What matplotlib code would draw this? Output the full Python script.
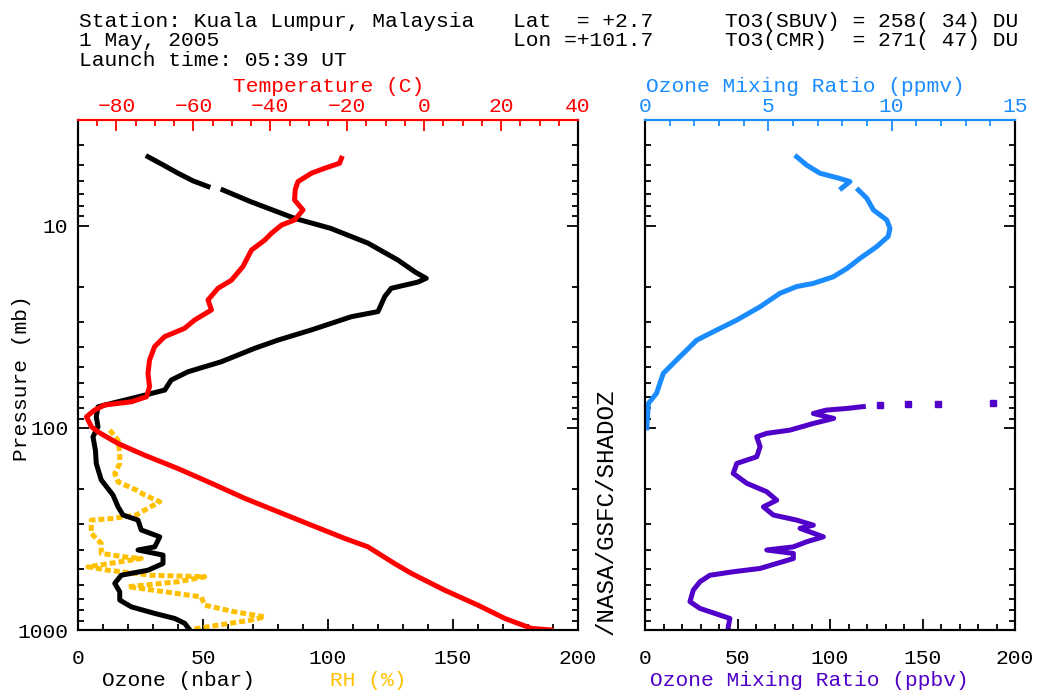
import numpy as np
import matplotlib
matplotlib.use("Agg")
import matplotlib.pyplot as plt
from matplotlib.ticker import MultipleLocator, LogLocator, FuncFormatter, NullFormatter

plt.rcParams['font.family'] = ['Liberation Mono', 'DejaVu Sans Mono']
FS = 15.3

# ---------------- data ----------------
nan = np.nan
# Ozone partial pressure (nbar) vs pressure (mb)
o3_p = [4.56, 5.0, 5.5, 6.0, 6.4, 6.5, 6.66, 7.6, 9.2, 10.3, 12.2, 14.8, 17.0, 18.2, 19.0, 20.4,
        22.4, 26.6, 28.2, 32.8, 36.8, 40.4, 47.1, 52.8, 58, 65, 68.9, 75.7, 78.7, 88, 98.8,
        110.7, 130, 150, 181, 215, 245.7, 270, 286, 320, 346, 388, 402, 426, 469, 506, 536,
        588, 647, 711, 768, 828, 877, 927, 1000]
o3_nbar = [28, 34, 40, 46, 52, nan, 58, 69, 86.7, 101, 116, 128, 135, 139.3, 136, 125.3,
           122.7, 120, 109.3, 93.3, 80, 70.7, 57.3, 44, 37.3, 34.7, 26.7, 13.3, 8, 7.3, 8,
           6, 7, 7.3, 9.3, 14, 16, 18, 24, 25.3, 32.7, 30.7, 24, 34, 34, 28, 17.3,
           14.7, 16.7, 16.7, 21.3, 30.7, 38.7, 42.7, 44.7]

# Temperature (C)
t_p = [4.64, 4.91, 5.2, 5.5, 6.05, 6.6, 7.46, 8.36, 9.37, 9.93, 10.9, 11.8, 13.2, 15.9, 18.6,
       20.4, 23.3, 26.1, 29.3, 32.2, 35.4, 39.7, 46.2, 53.8, 62.7, 70.2, 74.3, 77.1, 81.7,
       88.2, 98.8, 104.7, 119.5, 136.5, 159, 188, 223, 260, 303, 352, 388, 469, 525, 635,
       754, 877, 982, 1000]
t_c = [-21.5, -22, -25.9, -29.3, -32.8, -33.5, -33.7, -31.5, -33.7, -37.1, -39.7, -41.5, -44.9,
       -47.1, -50.1, -53.6, -56.2, -55.3, -59.7, -62.3, -67.5, -70.1, -71.4, -71.8, -71.4,
       -72.2, -76.1, -83.1, -85.7, -87.8, -86.5, -84.8, -79.6, -72.7, -64, -55.3, -46.7, -38,
       -29.3, -20.7, -14.6, -7.7, -3.3, 5.3, 14, 21, 27.9, 33]

# Relative humidity (%)
rh_p = [102.6, 115, 134, 150, 168, 185, 203, 215, 232, 255, 270, 281, 286, 333, 373, 418, 435,
        443, 487, 506, 536, 545, 577, 611, 647, 686, 754, 813, 861, 893, 946, 1000]
rh_pct = [12.7, 16, 16.7, 16.7, 14.7, 16, 23.3, 26.7, 32.7, 26.7, 23.3, 13.3, 5.3, 5.3, 9.3,
          9.3, 18.7, 25.3, 4, 12, 29.3, 50.7, 40, 20, 34.7, 49.3, 50.7, 62.7, 74.7, 69.3, 56, 44]

# Ozone mixing ratio (ppmv)
mr_p = [4.56, 5.01, 5.5, 5.84, 6.05, 6.53, 6.6, 6.66, 7.31, 8.36, 9.37, 10.3, 11.3, 12.7, 14.5,
        16.3, 17.9, 19.3, 20.0, 21.6, 25.2, 29.3, 32.8, 36.8, 46.2, 53.8, 67.4, 75.7, 100]
mr_ppmv = [6.15, 6.55, 7.09, 7.9, 8.31, 7.97, nan, 8.65, 8.99, 9.26, 9.8, 9.93, 9.86, 9.39, 8.72,
           8.18, 7.63, 6.82, 6.15, 5.47, 4.66, 3.72, 2.91, 2.1, 1.28, 0.74, 0.47, 0.14, 0.07]

# Ozone mixing ratio (ppbv)
pb_p = [78.5, 80.2, 81.7, 84.9, 89.8, 95.1, 102.6, 106.5, 110.7, 124, 139, 150, 168, 188, 207,
        228, 246, 270, 286, 303, 314, 346, 366, 388, 402, 418, 443, 496, 515, 536, 577, 635,
        724, 782, 844, 877, 964, 1000]
pb_ppbv = [118, 109, 98, 91, 102, 91, 78.4, 65.8, 60.4, 62.2, 60.4, 49.6, 47.7, 55, 65.8,
           71.2, 64, 69.4, 82, 91, 83.8, 96.4, 87.4, 80.2, 65.8, 80.2, 80.2, 62.2, 47.7, 35.1,
           29.7, 26.1, 24.3, 29.7, 40.5, 45.9, 45, 45]
pb_dot_p = [77.5, 76.5, 76.0, 75.7]
pb_dot_ppbv = [127, 142, 158.6, 188]

header_left = ["Station: Kuala Lumpur, Malaysia", "1 May, 2005", "Launch time: 05:39 UT"]
header_mid = ["Lat  = +2.7", "Lon =+101.7"]
header_right = ["TO3(SBUV) = 258( 34) DU", "TO3(CMR)  = 271( 47) DU"]

RED = '#ff0000'
GOLD = '#ffc000'
BLUE = '#1a8cff'
PURPLE = '#5000c8'

W, H = 1040, 695
fig = plt.figure(figsize=(W / 100, H / 100), dpi=100)

def fx(px):
    return px / W

def fy(py):
    return 1 - py / H

AX_TOP, AX_BOT = 120, 630
ax1 = fig.add_axes([fx(78), fy(AX_BOT), fx(578) - fx(78), (AX_BOT - AX_TOP) / H])
ax2 = fig.add_axes([fx(645), fy(AX_BOT), fx(1015) - fx(645), (AX_BOT - AX_TOP) / H])
ax1t = ax1.twiny()
ax2t = ax2.twiny()

LW = 3.6

def style_y(ax, labels):
    ax.set_yscale('log')
    ax.set_ylim(1000, 3)
    ax.yaxis.set_major_locator(LogLocator(base=10))
    ax.yaxis.set_minor_locator(LogLocator(base=10, subs=np.arange(2, 10)))
    if labels:
        ax.yaxis.set_major_formatter(FuncFormatter(lambda v, p: f"{v:g}"))
    else:
        ax.yaxis.set_major_formatter(NullFormatter())
    ax.yaxis.set_minor_formatter(NullFormatter())
    ax.tick_params(axis='y', which='both', direction='in', left=True, right=True,
                   labelleft=labels, labelright=False, labelsize=FS, pad=7, width=1.3)
    ax.tick_params(axis='y', which='major', length=8)
    ax.tick_params(axis='y', which='minor', length=4.5)

def style_bottom(ax):
    ax.set_xlim(0, 200)
    ax.xaxis.set_major_locator(MultipleLocator(50))
    ax.xaxis.set_minor_locator(MultipleLocator(10))
    ax.tick_params(axis='x', which='both', direction='in', bottom=True, top=False,
                   labelsize=FS, pad=14, width=1.3)
    ax.tick_params(axis='x', which='major', length=8)
    ax.tick_params(axis='x', which='minor', length=4.5)
    for s in ax.spines.values():
        s.set_linewidth(1.5)

def style_top(ax, color, lo, hi, major, minor, fmt):
    ax.set_xlim(lo, hi)
    ax.xaxis.set_major_locator(MultipleLocator(major))
    ax.xaxis.set_minor_locator(MultipleLocator(minor))
    ax.xaxis.set_major_formatter(FuncFormatter(fmt))
    ax.tick_params(axis='x', which='both', direction='in', colors=color, labelsize=FS,
                   pad=3, width=1.3)
    ax.tick_params(axis='x', which='major', length=8)
    ax.tick_params(axis='x', which='minor', length=4.5)
    for s in ax.spines.values():
        s.set_linewidth(1.5)
    ax.spines['top'].set_color(color)

# ---------- left panel ----------
ax1.plot(rh_pct, rh_p, color=GOLD, lw=LW, ls=(0, (1.2, 0.6)), solid_capstyle='butt')
ax1.plot(o3_nbar, o3_p, color='black', lw=LW)
ax1t.plot(t_c, t_p, color=RED, lw=LW)
style_bottom(ax1)
style_top(ax1t, RED, -90, 40, 20, 5, lambda v, p: f"{v:g}".replace('-', '\u2212'))
ax1.spines['top'].set_color(RED)

# ---------- right panel ----------
ax2.plot(pb_ppbv, pb_p, color=PURPLE, lw=LW)
ax2.plot(pb_dot_ppbv, pb_dot_p, ls='none', marker='s', ms=4, color=PURPLE)
ax2t.plot(mr_ppmv, mr_p, color=BLUE, lw=LW)
style_bottom(ax2)
style_top(ax2t, BLUE, 0, 15, 5, 1, lambda v, p: f"{v:g}")
ax2.spines['top'].set_color(BLUE)

# y axes last (shared with the twins)
style_y(ax1, True)
style_y(ax2, False)

# ---------- texts ----------
for i, t in enumerate(header_left):
    fig.text(fx(79), fy(27 + 19.5 * i), t, fontsize=FS, va='baseline', ha='left')
for i, t in enumerate(header_mid):
    fig.text(fx(513), fy(27 + 19.5 * i), t, fontsize=FS, va='baseline', ha='left')
for i, t in enumerate(header_right):
    fig.text(fx(725), fy(27 + 19.5 * i), t, fontsize=FS, va='baseline', ha='left')

fig.text(fx(233), fy(92), "Temperature (C)", color=RED, fontsize=FS, va='baseline', ha='left')
fig.text(fx(646), fy(92), "Ozone Mixing Ratio (ppmv)", color=BLUE, fontsize=FS, va='baseline', ha='left')
fig.text(fx(102), fy(686), "Ozone (nbar)", color='black', fontsize=FS, va='baseline', ha='left')
fig.text(fx(330), fy(686), "RH (%)", color=GOLD, fontsize=FS, va='baseline', ha='left')
fig.text(fx(650), fy(686), "Ozone Mixing Ratio (ppbv)", color=PURPLE, fontsize=FS, va='baseline', ha='left')
fig.text(fx(22), fy(378), "Pressure (mb)", rotation=90, fontsize=FS, va='center', ha='center')
fig.text(fx(606), fy(512), "/NASA/GSFC/SHADOZ", rotation=90, fontsize=17.5, va='center', ha='center')

fig.savefig("out.png", dpi=100)
